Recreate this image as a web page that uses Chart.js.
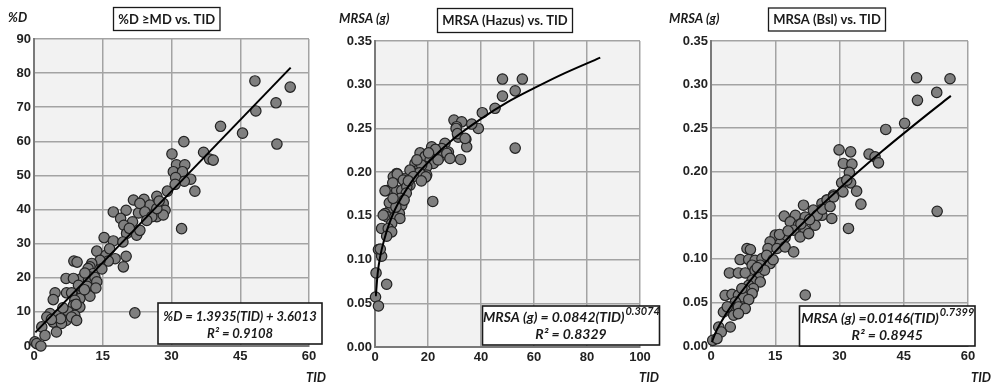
<!DOCTYPE html>
<html>
<head>
<meta charset="utf-8">
<script src="https://cdn.jsdelivr.net/npm/chart.js@4"></script>
<style>
  html, body { margin: 0; padding: 0; background: #fff; }
  #wrap { position: relative; width: 992px; height: 387px; }
  #wrap canvas { position: absolute; left: 0; top: 0; }
</style>
</head>
<body>
<div id="wrap">
  <canvas id="damageChart" width="992" height="387"></canvas>
  <canvas id="hazusChart" width="992" height="387"></canvas>
  <canvas id="bslChart" width="992" height="387"></canvas>
</div>
<script>
// [TID, %D]
const damagePoints = [
  [48.2,77.7],[55.9,75.9],[52.8,71.3],[48.4,68.9],[40.7,64.4],[45.5,62.4],[53.0,59.2],[32.7,59.9],
  [30.1,56.3],[37.0,56.8],[38.3,54.8],[39.1,54.5],[31.1,53.1],[32.9,53.1],[30.4,51.1],[32.4,51.1],
  [30.9,49.4],[34.2,48.9],[32.8,48.3],[30.8,47.4],[35.1,45.4],[29.1,45.4],[26.8,43.9],[21.7,42.8],
  [24.0,43.0],[25.3,41.3],[28.2,41.8],[28.6,39.8],[26.8,37.9],[28.2,38.4],[17.3,39.3],[20.1,39.8],
  [18.9,37.4],[21.5,36.4],[22.8,39.0],[19.6,35.4],[20.2,33.0],[22.4,32.5],[23.1,33.9],[32.2,34.4],
  [15.3,31.8],[17.3,30.8],[19.4,30.5],[13.7,27.8],[15.7,26.6],[17.7,25.6],[16.2,24.9],[20.1,26.3],
  [19.5,23.2],[14.4,25.1],[8.7,24.9],[9.4,24.6],[12.6,24.2],[12.2,23.2],[11.8,22.7],[12.9,21.2],
  [12.2,20.2],[10.4,19.8],[11.9,19.5],[13.3,20.1],[7.0,19.8],[8.6,19.8],[11.1,21.4],[9.7,17.8],
  [11.6,17.5],[13.7,18.8],[4.6,15.6],[4.2,13.6],[7.1,15.6],[8.2,15.6],[10.6,15.4],[12.2,14.6],
  [10.0,13.9],[8.9,13.4],[8.6,11.9],[10.0,11.4],[3.5,9.5],[2.8,8.5],[5.3,9.0],[7.5,10.0],
  [8.9,9.0],[7.0,7.5],[8.2,8.5],[9.3,7.5],[4.2,7.0],[6.0,6.6],[4.9,4.1],[1.7,5.6],
  [2.4,3.1],[0.2,1.2],[0.6,0.7],[1.5,0.0],[22.0,9.7],
  [23.1,41.8],[24.2,39.3],[25.7,37.9],[24.6,36.8],[26.8,40.3],[27.3,42.5],[20.8,34.5],[16.5,28.5],
  [14.8,22.6],[13.5,17.0],[11.0,16.5],[9.2,12.2],[6.3,11.2],[5.8,8.0],[3.8,7.8]
];
const damageFit = [[0.3,4.0],[56.0,81.6]];

// [TID, MRSA Hazus (g)]
const hazusPoints = [
  [48.1,0.3065],[55.6,0.3065],[48.1,0.287],[52.9,0.293],[45.3,0.273],[40.5,0.268],[29.8,0.2595],[32.7,0.2576],
  [39.0,0.250],[36.5,0.255],[30.8,0.252],[34.3,0.2375],[34.6,0.229],[31.4,0.240],[52.9,0.2275],[26.4,0.233],
  [27.7,0.223],[25.2,0.227],[23.3,0.2206],[21.4,0.229],[32.3,0.2145],[17.0,0.222],[18.9,0.218],[20.8,0.2138],
  [22.0,0.210],[19.5,0.206],[15.1,0.210],[16.3,0.2023],[13.8,0.2003],[19.5,0.1966],[18.9,0.1946],[8.2,0.1985],
  [6.9,0.1946],[11.3,0.1928],[4.4,0.179],[6.3,0.179],[8.2,0.179],[10.1,0.179],[21.8,0.1665],[30.6,0.250],
  [31.1,0.244],[34.0,0.2386],[24.5,0.2175],[27.1,0.2214],[28.3,0.2157],[17.6,0.208],[16.8,0.1992],[19.2,0.1946],
  [13.2,0.2023],[8.4,0.1977],[10.7,0.1909],[13.2,0.185],[6.7,0.1878],[3.8,0.1786],[12.0,0.1832],[8.8,0.168],
  [10.1,0.162],[7.5,0.158],[9.2,0.1527],[5.9,0.1573],[3.8,0.1527],[4.6,0.1488],[3.1,0.1508],[7.5,0.1488],
  [9.4,0.147],[6.3,0.1413],[2.5,0.1356],[5.0,0.1356],[6.3,0.1317],[4.4,0.1267],[1.3,0.1115],[2.5,0.1038],
  [0.4,0.0847],[4.4,0.0718],[0.2,0.0572],[1.3,0.0469],
  [14.5,0.195],[11.8,0.176],[15.8,0.214],[22.8,0.226],[9.6,0.170],[5.4,0.165],[12.6,0.190],[7.9,0.160],
  [2.0,0.112],[23.8,0.214],[20.2,0.222],[17.5,0.190],[11.0,0.168],[6.8,0.170]
];
const hazusFit = [
  [0.3,0.058],[1,0.084],[2,0.104],[3.5,0.123],[5,0.138],[7.5,0.157],[10,0.171],[15,0.194],[20,0.211],
  [30,0.239],[40,0.261],[50,0.280],[60,0.296],[70,0.311],[85,0.331]
];

// [TID, MRSA Bsl (g)]
const bslPoints = [
  [48.0,0.3078],[55.8,0.3067],[52.7,0.291],[48.2,0.2819],[45.2,0.2555],[40.8,0.2485],[29.9,0.2251],[32.6,0.2228],
  [36.9,0.2202],[38.3,0.2171],[39.1,0.2102],[30.9,0.2095],[32.9,0.2087],[32.3,0.1992],[30.5,0.1872],[32.6,0.1872],
  [31.7,0.1903],[34.0,0.1777],[30.8,0.1769],[28.6,0.1731],[27.0,0.1674],[52.8,0.1545],[35.0,0.1628],[32.1,0.1349],
  [22.0,0.0585],
  [21.6,0.1616],[23.9,0.1559],[25.9,0.1636],[27.1,0.1674],[28.6,0.1711],[17.1,0.149],[19.7,0.150],[22.0,0.148],
  [24.3,0.1386],[25.9,0.150],[28.2,0.1463],[18.5,0.1424],[20.4,0.1386],[22.0,0.1329],[19.3,0.1329],[20.8,0.1252],
  [22.8,0.129],[15.0,0.1272],[17.3,0.1245],[13.8,0.1195],[16.2,0.1176],[13.3,0.1119],[15.4,0.1119],[17.3,0.1137],
  [19.3,0.108],[8.4,0.1119],[9.2,0.1107],[6.8,0.0992],[8.8,0.0992],[10.3,0.0984],[11.9,0.1004],[13.8,0.0946],
  [11.5,0.0927],[9.6,0.0927],[4.3,0.0838],[6.4,0.0838],[8.0,0.0838],[10.3,0.087],[11.1,0.080],[9.6,0.0755],
  [11.5,0.0735],[8.8,0.0697],[9.9,0.0659],[8.0,0.064],[9.6,0.0602],[3.3,0.0582],[4.9,0.0594],[6.4,0.0582],
  [7.6,0.0563],[8.8,0.0533],[5.7,0.0505],[4.5,0.0448],[6.4,0.0448],[8.0,0.043],[2.9,0.039],[5.3,0.0353],
  [6.4,0.0372],[1.8,0.0218],[4.5,0.0218],[2.4,0.0161],[0.4,0.0065],[1.4,0.0085],
  [13.0,0.104],[14.5,0.099],[16.0,0.128],[18.0,0.132],[21.0,0.140],[24.8,0.150],[26.0,0.157],[12.5,0.087],
  [7.2,0.066],[3.8,0.045],[10.8,0.090],[23.0,0.145],[27.8,0.160]
];
const bslFit = [
  [0.2,0.0044],[1,0.0146],[2,0.0244],[5,0.048],[10,0.0803],[15,0.1083],[20,0.134],
  [30,0.1808],[40,0.2237],[50,0.2638],[56,0.287]
];

const TICK_FONT = { family: "'Liberation Sans', Arial, sans-serif", size: 13, weight: "bold" };
const LABEL_FONT = "italic bold 13px Lato, 'Liberation Sans', sans-serif";
const TITLE_FONT = "bold 13px Lato, 'Liberation Sans', sans-serif";
const SUP_FONT = "italic bold 11px Lato, 'Liberation Sans', sans-serif";

function eqFont(size) {
  return `italic bold ${size}px Lato, 'Liberation Sans', sans-serif`;
}

function toXY(rows) {
  return rows.map((r) => ({ x: r[0], y: r[1] }));
}

const decorPlugin = {
  id: "decor",
  beforeDraw(chart) {
    const a = chart.chartArea;
    const ctx = chart.ctx;
    ctx.save();
    ctx.fillStyle = "#f2f2f2";
    ctx.fillRect(a.left, a.top, a.right - a.left, a.bottom - a.top);
    ctx.restore();
  },
  afterDraw(chart, args, opts) {
    const ctx = chart.ctx;
    ctx.save();
    ctx.fillStyle = "#1a1a1a";
    ctx.textBaseline = "middle";

    // y axis name
    ctx.font = LABEL_FONT;
    ctx.textAlign = "left";
    ctx.fillText(opts.yLabel, opts.yLabelAt[0], opts.yLabelAt[1]);

    // x axis name
    ctx.textAlign = "center";
    ctx.fillText("TID", opts.tidAt[0], opts.tidAt[1]);

    // title box
    const t = opts.titleBox;
    ctx.fillStyle = "#fff";
    ctx.fillRect(t[0], t[1], t[2], t[3]);
    ctx.strokeStyle = "#1a1a1a";
    ctx.lineWidth = 1.3;
    ctx.strokeRect(t[0], t[1], t[2], t[3]);
    ctx.fillStyle = "#1a1a1a";
    ctx.font = TITLE_FONT;
    ctx.fillText(opts.title, t[0] + t[2] / 2, t[1] + t[3] / 2 + 0.5);

    // equation box
    const e = opts.eqBox;
    ctx.fillStyle = "#fff";
    ctx.fillRect(e[0], e[1], e[2], e[3]);
    ctx.lineWidth = 1.6;
    ctx.strokeRect(e[0], e[1], e[2], e[3]);
    ctx.fillStyle = "#1a1a1a";
    const cx = e[0] + e[2] / 2;
    const font = eqFont(opts.eqSize);
    ctx.font = font;
    const mainW = ctx.measureText(opts.eqMain).width;
    ctx.font = SUP_FONT;
    const supW = opts.eqSup ? ctx.measureText(opts.eqSup).width : 0;
    const startX = cx - (mainW + supW) / 2;
    ctx.textAlign = "left";
    ctx.font = font;
    ctx.fillText(opts.eqMain, startX, opts.eqLineY[0]);
    if (opts.eqSup) {
      ctx.font = SUP_FONT;
      ctx.fillText(opts.eqSup, startX + mainW + 1, opts.eqLineY[0] - 6);
    }
    ctx.font = font;
    ctx.textAlign = "center";
    ctx.fillText(opts.eqR2, cx, opts.eqLineY[1]);
    ctx.restore();
  },
};

function makePanel(id, points, fit, axes, decor) {
  const el = document.getElementById(id);
  if (!el) return null;
  return new Chart(el.getContext("2d"), {
    type: "scatter",
    data: {
      datasets: [
        {
          data: toXY(fit),
          showLine: true,
          borderColor: "#000",
          borderWidth: 2,
          pointRadius: 0,
          cubicInterpolationMode: "monotone",
        },
        {
          data: toXY(points),
          backgroundColor: "#7f7f7f",
          borderColor: "#222",
          borderWidth: 1.2,
          pointRadius: 5.2,
          clip: false,
        },
      ],
    },
    options: {
      responsive: false,
      animation: false,
      devicePixelRatio: 1,
      layout: { padding: axes.padding },
      plugins: { legend: { display: false }, tooltip: { enabled: false }, decor },
      scales: {
        x: {
          type: "linear",
          min: axes.xMin,
          max: axes.xMax,
          afterFit: (s) => { s.height = axes.xHeight; },
          ticks: { stepSize: axes.xStep, color: "#222", font: TICK_FONT, padding: 3, maxRotation: 0 },
          grid: { color: "#a3a3a3", lineWidth: 1.5, drawTicks: false },
          border: { color: "#7a7a7a", width: 2 },
        },
        y: {
          type: "linear",
          min: axes.yMin,
          max: axes.yMax,
          afterFit: (s) => { s.width = axes.yWidth; },
          ticks: {
            stepSize: axes.yStep,
            color: "#222",
            font: TICK_FONT,
            padding: 3,
            callback: (v) => v.toFixed(axes.yDecimals),
          },
          grid: { color: "#a3a3a3", lineWidth: 1.5, drawTicks: false },
          border: { color: "#7a7a7a", width: 2 },
        },
      },
    },
    plugins: [decorPlugin],
  });
}

makePanel(
  "damageChart",
  damagePoints,
  damageFit,
  { xMin: 0, xMax: 60, xStep: 15, yMin: 0, yMax: 90, yStep: 10, yDecimals: 0,
    yWidth: 34, xHeight: 41, padding: { left: 0, right: 683, top: 39, bottom: 0 } },
  {
    yLabel: "%D", yLabelAt: [8, 18], tidAt: [316, 378],
    title: "%D \u2265MD vs. TID", titleBox: [113.5, 7.5, 106.5, 23],
    eqBox: [158, 303, 164, 41], eqSize: 13, eqMain: "%D = 1.3935(TID) + 3.6013", eqSup: "",
    eqR2: "R\u00b2 = 0.9108", eqLineY: [316.5, 334],
  }
);

makePanel(
  "hazusChart",
  hazusPoints,
  hazusFit,
  { xMin: 0, xMax: 100, xStep: 20, yMin: 0, yMax: 0.35, yStep: 0.05, yDecimals: 2,
    yWidth: 45, xHeight: 40, padding: { left: 330, right: 352, top: 41, bottom: 0 } },
  {
    yLabel: "MRSA (g)", yLabelAt: [339, 19], tidAt: [649, 378],
    title: "MRSA (Hazus) vs. TID", titleBox: [437.5, 8.5, 135, 24],
    eqBox: [482.5, 306, 177, 39], eqSize: 14, eqMain: "MRSA (g) = 0.0842(TID)", eqSup: "0.3074",
    eqR2: "R\u00b2 = 0.8329", eqLineY: [317, 334.5],
  }
);

makePanel(
  "bslChart",
  bslPoints,
  bslFit,
  { xMin: 0, xMax: 60, xStep: 15, yMin: 0, yMax: 0.35, yStep: 0.05, yDecimals: 2,
    yWidth: 50, xHeight: 41, padding: { left: 661, right: 24, top: 41, bottom: 0 } },
  {
    yLabel: "MRSA (g)", yLabelAt: [669, 19], tidAt: [981, 378],
    title: "MRSA (Bsl) vs. TID", titleBox: [768.5, 8, 117, 23],
    eqBox: [799.5, 306, 175.5, 40], eqSize: 14, eqMain: "MRSA (g) =0.0146(TID)", eqSup: "0.7399",
    eqR2: "R\u00b2 = 0.8945", eqLineY: [318, 335],
  }
);
</script>
</body>
</html>
